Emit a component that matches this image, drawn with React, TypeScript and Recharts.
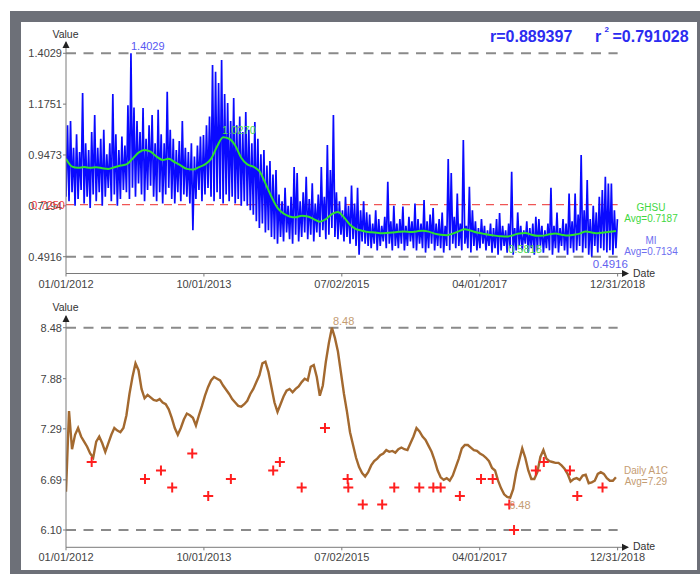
import React from 'react';
import {
  ComposedChart,
  Line,
  Scatter,
  XAxis,
  YAxis,
  ReferenceLine,
  ReferenceDot,
} from 'recharts';

const FONT = '"Liberation Sans", Arial, Helvetica, sans-serif';

// Date axis: days counted from 01/01/2012
const dateTicks = [0, 639, 1278, 1917, 2556];
const dateTickLabels = ['01/01/2012', '10/01/2013', '07/02/2015', '04/01/2017', '12/31/2018'];
const DATE_LAST = 2556;
const DATE_AXIS_END = 2604; // axis line runs on to the arrow head

// MI: daily values summarised per 14-day bin (lowest and highest reading)
const BIN_DAYS = 14;
const miLow = [
  0.76, 0.74, 0.78, 0.72, 0.75, 0.79, 0.73, 0.76, 0.71, 0.77,
  0.74, 0.78, 0.72, 0.76, 0.80, 0.74, 0.77, 0.72, 0.75, 0.79,
  0.78, 0.75, 0.80, 0.76, 0.82, 0.77, 0.74, 0.79, 0.81, 0.76,
  0.74, 0.78, 0.73, 0.77, 0.80, 0.75, 0.73, 0.78, 0.74, 0.77,
  0.76, 0.73, 0.61, 0.75, 0.79, 0.74, 0.77, 0.80, 0.76, 0.74,
  0.78, 0.75, 0.73, 0.77, 0.74, 0.76, 0.73, 0.75, 0.72, 0.74,
  0.72, 0.70, 0.68, 0.65, 0.62, 0.64, 0.60, 0.61, 0.58, 0.57,
  0.55, 0.58, 0.56, 0.60, 0.57, 0.55, 0.59, 0.56, 0.58, 0.60,
  0.57, 0.59, 0.56, 0.60, 0.58, 0.61, 0.57, 0.59, 0.62, 0.58,
  0.57, 0.59, 0.56, 0.58, 0.55, 0.57, 0.54, 0.50, 0.56, 0.55,
  0.54, 0.53, 0.55, 0.52, 0.54, 0.56, 0.53, 0.55, 0.52, 0.54,
  0.53, 0.55, 0.52, 0.54, 0.56, 0.53, 0.52, 0.55, 0.53, 0.51,
  0.53, 0.55, 0.52, 0.54, 0.53, 0.51, 0.54, 0.52, 0.55, 0.53,
  0.54, 0.52, 0.55, 0.53, 0.51, 0.54, 0.52, 0.53, 0.55, 0.52,
  0.54, 0.51, 0.53, 0.50, 0.52, 0.54, 0.51, 0.53, 0.50, 0.52,
  0.54, 0.52, 0.55, 0.51, 0.53, 0.50, 0.52, 0.54, 0.51, 0.53,
  0.52, 0.50, 0.53, 0.51, 0.54, 0.52, 0.50, 0.53, 0.51, 0.52,
  0.54, 0.51, 0.53, 0.50, 0.4916, 0.54, 0.51, 0.53, 0.52, 0.51,
  0.52, 0.50, 0.53,
];
const miHigh = [
  1.08, 1.10, 0.98, 1.04, 0.96, 1.225, 1.00, 0.97, 1.05, 1.126,
  0.98, 1.02, 1.06, 0.95, 1.00, 1.22, 1.04, 0.97, 1.03, 0.99,
  1.17, 1.4029, 1.16, 1.10, 1.05, 1.158, 1.02, 1.08, 1.126, 1.00,
  1.15, 1.04, 1.00, 1.23, 1.06, 1.02, 0.97, 1.01, 1.10, 0.98,
  0.96, 1.00, 0.94, 0.99, 1.03, 1.037, 1.08, 1.12, 1.35, 1.32,
  1.27, 1.373, 1.22, 1.18, 1.10, 1.203, 1.08, 1.12, 1.05, 1.14,
  1.06, 1.00, 1.095, 1.02, 0.95, 0.97, 0.90, 0.92, 0.86, 0.88,
  0.77, 0.74, 0.80, 0.72, 0.76, 0.893, 0.867, 0.74, 0.78, 0.85,
  0.75, 0.82, 0.73, 0.77, 0.893, 0.76, 0.992, 0.88, 1.126, 0.78,
  0.74, 0.70, 0.76, 0.72, 0.81, 0.73, 0.80, 0.70, 0.74, 0.69,
  0.68, 0.64, 0.70, 0.66, 0.63, 0.67, 0.827, 0.65, 0.72, 0.64,
  0.66, 0.716, 0.63, 0.67, 0.65, 0.73, 0.66, 0.64, 0.745, 0.65,
  0.68, 0.71, 0.64, 0.66, 0.69, 0.63, 0.929, 0.867, 0.67, 0.775,
  0.64, 1.014, 0.63, 0.805, 0.70, 0.65, 0.62, 0.66, 0.63, 0.61,
  0.64, 0.62, 0.66, 0.687, 0.63, 0.61, 0.64, 0.872, 0.62, 0.69,
  0.63, 0.61, 0.65, 0.62, 0.64, 0.67, 0.66, 0.63, 0.61, 0.64,
  0.80, 0.63, 0.69, 0.62, 0.66, 0.64, 0.775, 0.65, 0.775, 0.68,
  0.947, 0.70, 0.835, 0.66, 0.72, 0.69, 0.76, 0.79, 0.85, 0.82,
  0.82, 0.70, 0.66,
];

// GHSU moving average, one value every 28 days
const GHSU_STEP = 28;
const ghsu = [
  0.93, 0.895, 0.89, 0.893, 0.89, 0.892, 0.888, 0.885, 0.892, 0.90,
  0.905, 0.93, 0.958, 0.97, 0.962, 0.94, 0.925, 0.93, 0.915, 0.90,
  0.885, 0.882, 0.893, 0.905, 0.93, 0.985, 1.027, 1.02, 0.99, 0.935,
  0.905, 0.895, 0.875, 0.82, 0.76, 0.71, 0.685, 0.672, 0.668, 0.675,
  0.672, 0.66, 0.648, 0.66, 0.682, 0.692, 0.668, 0.635, 0.615, 0.608,
  0.602, 0.60, 0.597, 0.598, 0.60, 0.603, 0.605, 0.602, 0.605, 0.608,
  0.604, 0.595, 0.59, 0.588, 0.595, 0.605, 0.615, 0.608, 0.60, 0.595,
  0.59, 0.586, 0.583, 0.5818, 0.588, 0.596, 0.598, 0.59, 0.585, 0.586,
  0.592, 0.595, 0.59, 0.586, 0.59, 0.595, 0.605, 0.60, 0.597, 0.60,
  0.603, 0.607,
];

// Daily A1C estimate, one value every 14 days
const a1cDaily = [
  6.55, 7.50, 7.05, 7.22, 7.30, 7.20, 7.14, 7.08, 7.00, 6.95,
  7.14, 7.20, 7.12, 7.02, 7.12, 7.22, 7.30, 7.27, 7.25, 7.30,
  7.45, 7.70, 7.90, 8.06, 7.98, 7.76, 7.65, 7.69, 7.66, 7.63,
  7.62, 7.64, 7.60, 7.58, 7.52, 7.42, 7.30, 7.22, 7.30, 7.40,
  7.47, 7.45, 7.42, 7.33, 7.45, 7.56, 7.68, 7.78, 7.86, 7.90,
  7.88, 7.86, 7.80, 7.75, 7.70, 7.64, 7.60, 7.56, 7.55, 7.58,
  7.62, 7.70, 7.76, 7.84, 7.92, 8.06, 8.08, 7.96, 7.78, 7.60,
  7.49, 7.58, 7.67, 7.74, 7.76, 7.72, 7.76, 7.79, 7.84, 7.88,
  7.86, 8.02, 8.04, 7.90, 7.68, 7.80, 8.08, 8.30, 8.48, 8.36,
  8.20, 7.95, 7.70, 7.49, 7.25, 7.10, 6.95, 6.84, 6.77, 6.73,
  6.78, 6.86, 6.91, 6.94, 6.98, 7.00, 7.04, 7.02, 7.03, 7.01,
  7.05, 7.07, 7.05, 7.04, 7.12, 7.20, 7.30, 7.26, 7.20, 7.16,
  7.09, 7.02, 6.92, 6.80, 6.72, 6.69, 6.71, 6.68, 6.74, 6.84,
  6.94, 7.06, 7.10, 7.10, 7.07, 7.04, 7.03, 7.00, 6.98, 6.95,
  6.91, 6.83, 6.80, 6.68, 6.59, 6.52, 6.49, 6.48, 6.58, 6.78,
  6.92, 7.06, 6.95, 6.80, 6.70, 6.70, 6.78, 6.96, 7.04, 6.94,
  6.91, 6.90, 6.89, 6.89, 6.86, 6.82, 6.76, 6.67, 6.70, 6.71,
  6.69, 6.74, 6.75, 6.65, 6.66, 6.68, 6.76, 6.78, 6.76, 6.71,
  6.68, 6.68, 6.72,
];

// Lab A1C results
const labDays = [
  119, 366, 440, 492, 585, 659, 764, 960, 991, 1092,
  1200, 1305, 1308, 1375, 1465, 1521, 1637, 1702, 1736, 1825,
  1923, 1977, 2054, 2076, 2177, 2214, 2335, 2369, 2486,
];
const labA1c = [
  6.9, 6.7, 6.8, 6.6, 7.0, 6.5, 6.7, 6.8, 6.9, 6.6,
  7.3, 6.7, 6.6, 6.4, 6.4, 6.6, 6.6, 6.6, 6.6, 6.5,
  6.7, 6.7, 6.4, 6.1, 6.8, 6.9, 6.8, 6.5, 6.6,
];

const miTicks = [0.4916, 0.7194, 0.9473, 1.1751, 1.4029];
const a1cTicks = [6.1, 6.69, 7.29, 7.88, 8.48];
const MI_AXIS = [0.4163, 1.4535];
const A1C_AXIS = [5.8965, 8.6176];
const GHSU_LIMIT = 0.725;
const correlation = 'r=0.889397';
const rSquared = '=0.791028';
const ghsuAvg = 'Avg=0.7187';
const miAvg = 'Avg=0.7134';
const a1cAvg = 'Avg=7.29';

// Series tables built from the arrays above
const miSeries = miLow.flatMap((lo, i) => [
  { day: i * BIN_DAYS, mi: lo },
  { day: i * BIN_DAYS + BIN_DAYS / 2, mi: miHigh[i] },
]);
const ghsuSeries = ghsu.map((v, j) => ({ day: j * GHSU_STEP, ghsu: v }));
const a1cSeries = a1cDaily.map((v, i) => ({ day: i * BIN_DAYS, a1c: v }));
const labSeries = labDays.map((d, k) => ({ day: d, lab: labA1c[k] }));

const argMax = (a: number[]) => a.indexOf(Math.max(...a));
const argMin = (a: number[]) => a.indexOf(Math.min(...a));

const miMaxI = argMax(miHigh);
const miMinI = argMin(miLow);
const ghsuMaxI = argMax(ghsu);
const ghsuMinI = argMin(ghsu);
const a1cMaxI = argMax(a1cDaily);
const a1cMinI = argMin(a1cDaily);
const labMin = Math.min(...labA1c);

const BLUE = '#0a0aff';
const GREEN = '#2ee02e';
const BROWN = '#a3692f';
const AXIS = '#7a7a7a';
const TICK = { fontSize: 11, fill: '#444', fontFamily: FONT };

const fmtDate = (d: number) => dateTickLabels[dateTicks.indexOf(d)] ?? '';

const valueTag = (text: string, color: string, dx: number, dy: number, size = 11) => (p: any) => (
  <text x={p.cx + dx} y={p.cy + dy} fill={color} fontSize={size} fontFamily={FONT}>
    {text}
  </text>
);

const arrowRight = (p: any) => (
  <polygon points={`${p.cx - 6},${p.cy - 3.5} ${p.cx + 1},${p.cy} ${p.cx - 6},${p.cy + 3.5}`} fill="#222" />
);
const arrowUp = (p: any) => (
  <polygon points={`${p.cx - 3.5},${p.cy + 6} ${p.cx},${p.cy - 1} ${p.cx + 3.5},${p.cy + 6}`} fill="#222" />
);

const Cross = (p: any) => (
  <g stroke="#ff1f1f" strokeWidth={2}>
    <line x1={p.cx - 5} y1={p.cy} x2={p.cx + 5} y2={p.cy} />
    <line x1={p.cx} y1={p.cy - 5} x2={p.cx} y2={p.cy + 5} />
  </g>
);

const dashedGray = { stroke: '#8a8a8a', strokeWidth: 2, strokeDasharray: '10 7.5' };

function MiChart() {
  return (
    <ComposedChart width={700} height={292} margin={{ top: 42, right: 72, bottom: 0, left: 0 }}>
      <XAxis
        dataKey="day"
        type="number"
        domain={[0, DATE_AXIS_END]}
        allowDataOverflow
        ticks={dateTicks}
        interval={0}
        tickFormatter={fmtDate}
        height={18.5}
        stroke={AXIS}
        tickSize={3}
        tickMargin={4}
        tick={TICK}
      />
      <YAxis
        type="number"
        domain={MI_AXIS}
        allowDataOverflow
        ticks={miTicks}
        interval={0}
        tickFormatter={(v: number) => v.toFixed(4)}
        width={66}
        stroke={AXIS}
        tickSize={3}
        tickMargin={1}
        tick={TICK}
      />
      <ReferenceLine
        segment={[{ x: 0, y: miHigh[miMaxI] }, { x: DATE_LAST, y: miHigh[miMaxI] }]}
        {...dashedGray}
      />
      <ReferenceLine
        segment={[{ x: 0, y: miLow[miMinI] }, { x: DATE_LAST, y: miLow[miMinI] }]}
        {...dashedGray}
      />
      <ReferenceLine
        segment={[{ x: 0, y: GHSU_LIMIT }, { x: DATE_LAST, y: GHSU_LIMIT }]}
        stroke="#f05555"
        strokeWidth={1.3}
        strokeDasharray="8 6"
        label={{ value: GHSU_LIMIT.toFixed(4), position: 'left', offset: 1, fill: '#f04040', fontSize: 11, fontFamily: FONT }}
      />
      <Line
        data={miSeries}
        dataKey="mi"
        type="linear"
        stroke={BLUE}
        strokeWidth={1.7}
        dot={false}
        isAnimationActive={false}
      />
      <Line
        data={ghsuSeries}
        dataKey="ghsu"
        type="monotone"
        stroke={GREEN}
        strokeWidth={2}
        dot={false}
        isAnimationActive={false}
      />
      <ReferenceDot
        x={miMaxI * BIN_DAYS + BIN_DAYS / 2}
        y={miHigh[miMaxI]}
        ifOverflow="visible"
        shape={valueTag(miHigh[miMaxI].toFixed(4), '#5858f2', 0, -3)}
      />
      <ReferenceDot
        x={miMinI * BIN_DAYS}
        y={miLow[miMinI]}
        ifOverflow="visible"
        shape={valueTag(miLow[miMinI].toFixed(4), '#6262ee', 1, 11, 11.5)}
      />
      <ReferenceDot
        x={ghsuMaxI * GHSU_STEP}
        y={ghsu[ghsuMaxI]}
        ifOverflow="visible"
        shape={valueTag(ghsu[ghsuMaxI].toFixed(4), '#4ddd4d', -1, -3)}
      />
      <ReferenceDot
        x={ghsuMinI * GHSU_STEP}
        y={ghsu[ghsuMinI]}
        ifOverflow="visible"
        shape={valueTag(ghsu[ghsuMinI].toFixed(4), '#4ddd4d', 1, 16.5)}
      />
      <ReferenceDot x={DATE_AXIS_END} y={MI_AXIS[0]} ifOverflow="visible" shape={arrowRight} />
      <ReferenceDot x={0} y={MI_AXIS[1]} ifOverflow="visible" shape={arrowUp} />
    </ComposedChart>
  );
}

function A1cChart() {
  return (
    <ComposedChart width={700} height={282} margin={{ top: 24, right: 72, bottom: 0, left: 0 }}>
      <XAxis
        dataKey="day"
        type="number"
        domain={[0, DATE_AXIS_END]}
        allowDataOverflow
        ticks={dateTicks}
        interval={0}
        tickFormatter={fmtDate}
        height={26.7}
        stroke={AXIS}
        tickSize={3}
        tickMargin={3}
        tick={TICK}
      />
      <YAxis
        type="number"
        domain={A1C_AXIS}
        allowDataOverflow
        ticks={a1cTicks}
        interval={0}
        tickFormatter={(v: number) => v.toFixed(2)}
        width={66}
        stroke={AXIS}
        tickSize={3}
        tickMargin={1}
        tick={TICK}
      />
      <ReferenceLine
        segment={[{ x: 0, y: a1cDaily[a1cMaxI] }, { x: DATE_LAST, y: a1cDaily[a1cMaxI] }]}
        {...dashedGray}
      />
      <ReferenceLine
        segment={[{ x: 0, y: labMin }, { x: DATE_LAST, y: labMin }]}
        {...dashedGray}
      />
      <Line
        data={a1cSeries}
        dataKey="a1c"
        type="linear"
        stroke={BROWN}
        strokeWidth={2.4}
        dot={false}
        isAnimationActive={false}
      />
      <Scatter data={labSeries} dataKey="lab" shape={Cross} isAnimationActive={false} />
      <ReferenceDot
        x={a1cMaxI * BIN_DAYS}
        y={a1cDaily[a1cMaxI]}
        ifOverflow="visible"
        shape={valueTag(a1cDaily[a1cMaxI].toFixed(2), '#c49c72', 1, -3)}
      />
      <ReferenceDot
        x={a1cMinI * BIN_DAYS}
        y={a1cDaily[a1cMinI]}
        ifOverflow="visible"
        shape={valueTag(a1cDaily[a1cMinI].toFixed(2), '#c49c72', -1, 11.5)}
      />
      <ReferenceDot x={DATE_AXIS_END} y={A1C_AXIS[0]} ifOverflow="visible" shape={arrowRight} />
      <ReferenceDot x={0} y={A1C_AXIS[1]} ifOverflow="visible" shape={arrowUp} />
    </ComposedChart>
  );
}

function Captions() {
  const t = { fontFamily: FONT } as const;
  return (
    <svg width={700} height={574} style={{ position: 'absolute', left: 0, top: 0, pointerEvents: 'none' }}>
      <g {...t} fontSize={16} fontWeight="bold" fill="#2c2cf0">
        <text x={490} y={41.5}>{correlation}</text>
        <text x={595} y={41.5}>r</text>
        <text x={604.5} y={31.5} fontSize={8}>2</text>
        <text x={612.5} y={41.5}>{rSquared}</text>
      </g>
      <g {...t} fontSize={10.5} fill="#333">
        <text x={65.5} y={37.5} textAnchor="middle">Value</text>
        <text x={65.5} y={310.5} textAnchor="middle">Value</text>
        <text x={633} y={277.3}>Date</text>
        <text x={633} y={549.5}>Date</text>
      </g>
      <g {...t} fontSize={10} textAnchor="middle">
        <text x={651} y={210.5} fill="#3fd83f">GHSU</text>
        <text x={651} y={222} fill="#3fd83f">{ghsuAvg}</text>
        <text x={651} y={243.6} fill="#6e6ef0">MI</text>
        <text x={651} y={254.5} fill="#6e6ef0">{miAvg}</text>
        <text x={646} y={473.6} fill="#c49c72">Daily A1C</text>
        <text x={646} y={485.3} fill="#c49c72">{a1cAvg}</text>
      </g>
    </svg>
  );
}

export default function App() {
  return (
    <div style={{ position: 'absolute', left: 0, top: 0, width: 700, height: 574, background: '#fff', overflow: 'hidden' }}>
      <div style={{ position: 'absolute', left: 10, top: 11, width: 690, height: 563, background: '#6d7078' }} />
      <div style={{ position: 'absolute', left: 21, top: 22, width: 676, height: 548, background: '#fff' }} />
      <div style={{ position: 'absolute', left: 0, top: 0 }}>
        <MiChart />
      </div>
      <div style={{ position: 'absolute', left: 0, top: 292 }}>
        <A1cChart />
      </div>
      <Captions />
    </div>
  );
}
